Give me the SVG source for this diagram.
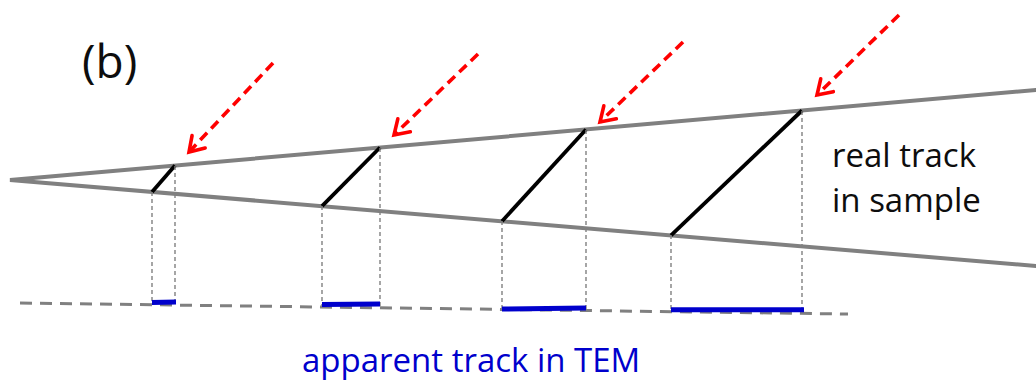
<svg xmlns="http://www.w3.org/2000/svg" width="1036" height="381" viewBox="0 0 1036 381">
<style>
.wedge{stroke:#808080;stroke-width:4;fill:none;stroke-linecap:round}
.track{stroke:#000;stroke-width:3.8;fill:none}
.proj{stroke:#808080;stroke-width:1.4;stroke-dasharray:4 3;fill:none}
.base{stroke:#808080;stroke-width:3;stroke-dasharray:12 8;fill:none}
.app{stroke:#0000CC;stroke-width:5;fill:none}
.beam{stroke:#FF0000;stroke-width:3.6;stroke-dasharray:10 6;fill:none;marker-end:url(#ah)}
.lbl{font-family:"Open Sans","Liberation Sans",sans-serif;font-size:33px;fill:#0d0d0d}
</style>
<defs>
<marker id="ah" markerUnits="userSpaceOnUse" markerWidth="30" markerHeight="30" refX="0" refY="0" viewBox="-20 -15 30 30" orient="auto" overflow="visible">
<path d="M -14 -9 L 0 0 L -14 9" fill="none" stroke="#FF0000" stroke-width="3.6" stroke-linecap="round" stroke-linejoin="miter"/>
</marker>
</defs>
<g id="sample">
<path class="wedge" d="M 1036 90 L 10 180 L 1036 266"/>
</g>
<g id="tracks">
<line class="track" x1="152" y1="191.9" x2="175" y2="165.5"/>
<line class="track" x1="322" y1="206.2" x2="380" y2="147.5"/>
<line class="track" x1="502" y1="221.2" x2="586" y2="129.5"/>
<line class="track" x1="671" y1="235.4" x2="802" y2="110.5"/>
</g>
<g id="connectors">
<line class="proj" x1="152" y1="192" x2="152" y2="304"/>
<line class="proj" x1="175" y1="166" x2="175" y2="304"/>
<line class="proj" x1="322" y1="206" x2="322" y2="306"/>
<line class="proj" x1="380" y1="148" x2="380" y2="306"/>
<line class="proj" x1="502" y1="221" x2="502" y2="310"/>
<line class="proj" x1="586" y1="130" x2="586" y2="310"/>
<line class="proj" x1="671" y1="235" x2="671" y2="312"/>
<line class="proj" x1="802" y1="111" x2="802" y2="312"/>
<line class="beam" x1="273" y1="63" x2="189" y2="152"/>
<line class="beam" x1="478" y1="54" x2="394" y2="135"/>
<line class="beam" x1="683" y1="42" x2="600" y2="122"/>
<line class="beam" x1="899" y1="15" x2="817" y2="95"/>
</g>
<g id="tem">
<line class="base" x1="20" y1="303" x2="848" y2="314"/>
<line class="app" x1="152" y1="302.5" x2="176" y2="302"/>
<line class="app" x1="322" y1="304.5" x2="380" y2="304"/>
<line class="app" x1="502" y1="309" x2="586" y2="308"/>
<line class="app" x1="671" y1="309.7" x2="804" y2="309.7"/>
</g>
<g id="labels">
<text class="lbl" x="82" y="78" style="font-size:46px">(b)</text>
<text class="lbl" x="832" y="167">real track</text>
<text class="lbl" x="832" y="212">in sample</text>
<text class="lbl" x="302" y="372" style="fill:#0000CC">apparent track in TEM</text>
</g>
</svg>
